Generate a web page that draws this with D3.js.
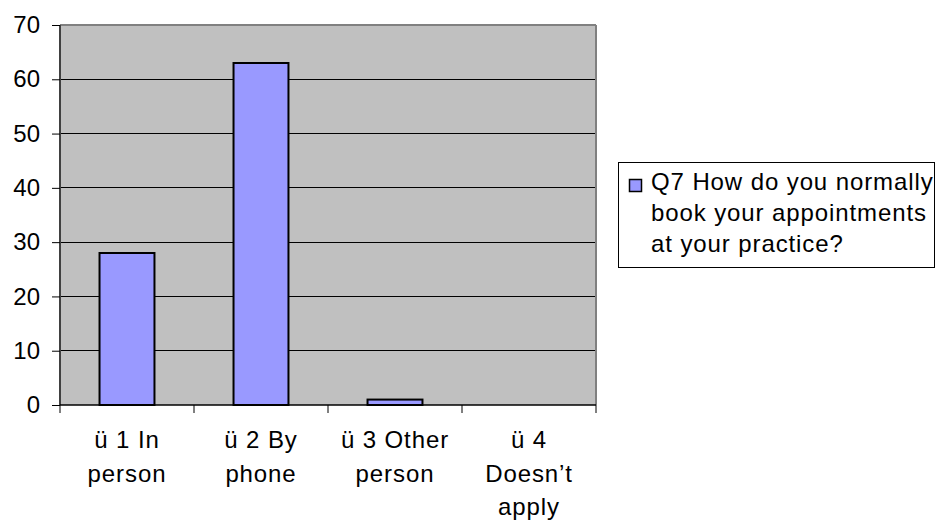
<!DOCTYPE html>
<html><head><meta charset="utf-8">
<script src="https://cdn.jsdelivr.net/npm/d3@7"></script>
<style>body{margin:0;background:#fff}svg{display:block;font-family:"Liberation Sans",Arial,sans-serif}</style>
</head><body>
<script>
const categories = ["ü 1 In person", "ü 2 By phone", "ü 3 Other person", "ü 4 Doesn’t apply"];
const categoryLines = [["ü 1 In","person"],["ü 2 By","phone"],["ü 3 Other","person"],["ü 4","Doesn’t","apply"]];
const values = [28, 63, 1, 0];
const yTicks = [0,10,20,30,40,50,60,70];
const seriesName = ["Q7 How do you normally","book your appointments","at your practice?"];

const W=940,H=524;
const m={l:60,t:25,r:596,b:405};
const svg=d3.select("body").append("svg").attr("width",W).attr("height",H);
const x=d3.scaleBand().domain(categories).range([m.l,m.r]).paddingInner(0.59).paddingOuter(0.295);
const y=d3.scaleLinear().domain([0,70]).range([m.b,m.t]);

svg.append("rect").attr("x",m.l).attr("y",m.t).attr("width",m.r-m.l).attr("height",m.b-m.t).attr("fill","#c0c0c0");
// gridlines
svg.selectAll(".g").data(yTicks.filter(d=>d>0&&d<70)).enter().append("line")
 .attr("x1",m.l).attr("x2",m.r).attr("y1",d=>y(d)).attr("y2",d=>y(d)).attr("stroke","#000").attr("stroke-width",1).attr("shape-rendering","crispEdges");
// plot border top/right
svg.append("line").attr("x1",m.l).attr("x2",m.r).attr("y1",m.t).attr("y2",m.t).attr("stroke","#808080").attr("stroke-width",2);
svg.append("line").attr("x1",m.r).attr("x2",m.r).attr("y1",m.t).attr("y2",m.b).attr("stroke","#808080").attr("stroke-width",2);

// bars
svg.selectAll(".bar").data(values).enter().append("rect")
 .attr("x",(d,i)=>x(categories[i])).attr("width",x.bandwidth())
 .attr("y",d=>y(d)).attr("height",d=>y(0)-y(d))
 .attr("fill",d=>d>0?"#9999ff":"none").attr("stroke",d=>d>0?"#000":"none").attr("stroke-width",2);

// y axis
const ya=svg.append("g").attr("transform",`translate(${m.l},0)`).call(d3.axisLeft(y).tickValues(yTicks).tickSize(8).tickPadding(12).tickFormat(d3.format("d")));
ya.select(".domain").attr("stroke","#404040").attr("stroke-width",2).attr("d",`M0,${m.t}V${m.b}`);
ya.selectAll(".tick line").attr("stroke","#000");
ya.selectAll("text").attr("font-size",24).attr("fill","#000").attr("font-family","Liberation Sans, Arial, sans-serif");

// x axis
const xa=svg.append("g").attr("transform",`translate(0,${m.b})`).call(d3.axisBottom(x).tickSize(0).tickFormat(""));
xa.select(".domain").attr("stroke","#000").attr("stroke-width",1.5).attr("d",`M${m.l},0H${m.r}`);
const step=x.step();
const tickPos=d3.range(categories.length+1).map(i=>m.l+i*step);
svg.selectAll(".xt").data(tickPos).enter().append("line").attr("x1",d=>d).attr("x2",d=>d).attr("y1",m.b).attr("y2",m.b+8).attr("stroke","#000");
categoryLines.forEach((lines,i)=>{
  const cx=x(categories[i])+x.bandwidth()/2;
  const t=svg.append("text").attr("text-anchor","middle").attr("font-size",24).attr("letter-spacing","0.9px").attr("fill","#000");
  lines.forEach((l,j)=>t.append("tspan").attr("x",cx).attr("y",448+j*33.5).text(l));
});

// legend
svg.append("rect").attr("x",618.5).attr("y",162.5).attr("width",316).attr("height",105).attr("fill","#fff").attr("stroke","#000").attr("stroke-width",1);
svg.append("rect").attr("x",629.5).attr("y",179.5).attr("width",12).attr("height",12).attr("fill","#9999ff").attr("stroke","#000").attr("stroke-width",1.5);
const lt=svg.append("text").attr("font-size",24).attr("letter-spacing","0.9px").attr("fill","#000");
seriesName.forEach((s,j)=>lt.append("tspan").attr("x",651).attr("y",190+j*31).text(s));
</script>
</body></html>
